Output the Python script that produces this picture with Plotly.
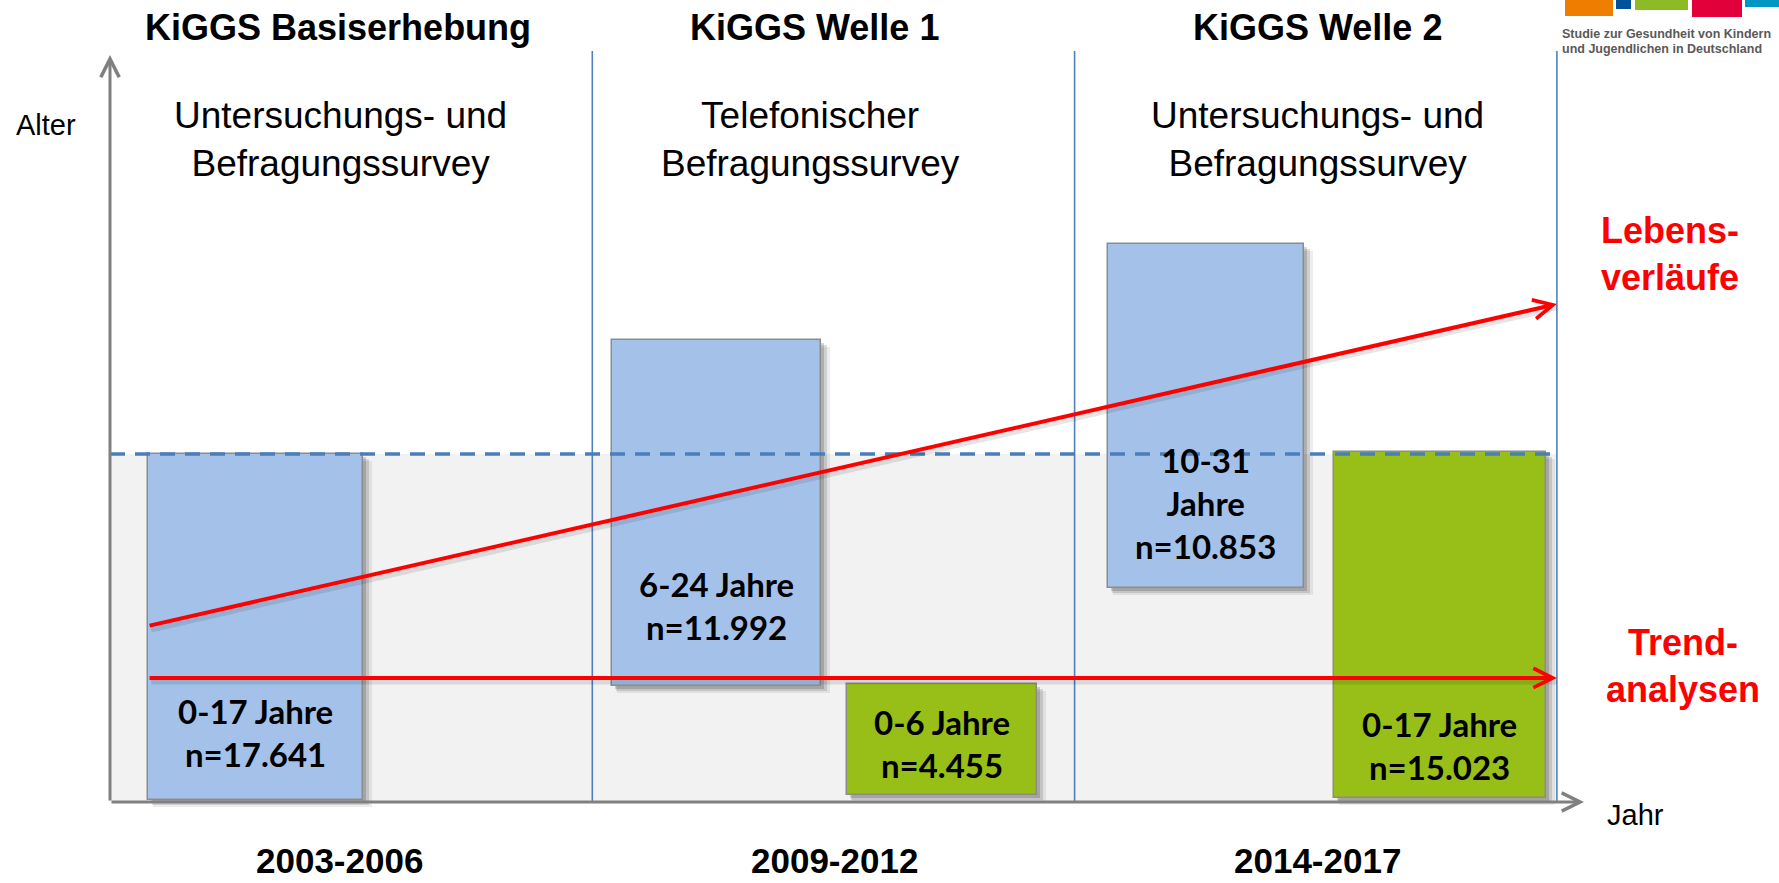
import plotly.graph_objects as go

# ---------------- data ----------------
waves = ["KiGGS Basiserhebung", "KiGGS Welle 1", "KiGGS Welle 2"]
periods = ["2003-2006", "2009-2012", "2014-2017"]
survey_types = ["Untersuchungs- und<br>Befragungssurvey",
                "Telefonischer<br>Befragungssurvey",
                "Untersuchungs- und<br>Befragungssurvey"]

# samples (schematic age extent as drawn in the diagram)
sample_wave = [0, 1, 1, 2, 2]
sample_kind = ["Kohorte", "Kohorte", "Querschnitt", "Kohorte", "Querschnitt"]
sample_age_from = [0.0, 5.6, 0.25, 10.4, 0.1]
sample_age_to = [17.0, 22.6, 5.7, 27.3, 17.1]
sample_labels = ["0-17 Jahre<br>n=17.641",
                 "6-24 Jahre<br>n=11.992",
                 "0-6 Jahre<br>n=4.455",
                 "10-31<br>Jahre<br>n=10.853",
                 "0-17 Jahre<br>n=15.023"]

reference_age = 17          # upper age of the trend population
lebens_start = (0.079, 8.55)
lebens_end = (3.0, 24.37)
trend_age = 6.0
analysis_labels = ["Lebens-<br>verläufe", "Trend-<br>analysen"]
logo_lines = ["Studie zur Gesundheit von Kindern", "und Jugendlichen in Deutschland"]

# ---------------- layout constants (positions / styles) ----------------
W, H = 1779, 883
PXX, X0 = 482.3, 110.0     # px per wave section, px of x=0
PXY, Y0 = 20.35, 800.0     # px per age unit, px of age 0
def dx(px):
    return px / PXX
def dy(px):
    return px / PXY
def X(px):
    return (px - X0) / PXX
def Y(px):
    return (Y0 - px) / PXY

slot_center = [0.302, 1.258, 1.726, 2.272, 2.757]
slot_width = [0.446, 0.434, 0.394, 0.407, 0.44]
label_offset = [3.3, 3.98, 2.53, 4.2, 2.6]
kind_color = {"Kohorte": "#a4c2e9", "Querschnitt": "#97bf17"}

ARIAL = "Liberation Sans, Arial, sans-serif"
CALIBRI = "Lato, Carlito, Calibri, sans-serif"
AXIS_GRAY = "#808080"
DIV_BLUE = "#4f81bd"
RED = "#ff0000"

fig = go.Figure()

# gray band: trend population (0..reference_age)
fig.add_shape(type="rect", xref="x", yref="y", x0=0, x1=3, y0=-0.1, y1=reference_age,
              fillcolor="#f2f2f2", line_width=0, layer="below")

# wave dividers
for k in range(1, len(waves) + 1):
    fig.add_trace(go.Scatter(x=[k, k], y=[-0.1, Y(51)], mode="lines",
                             line=dict(color=DIV_BLUE, width=1.6),
                             hoverinfo="skip", showlegend=False))

# bar shadows
xs = slot_center
bases = sample_age_from
heights = [t - f for f, t in zip(sample_age_from, sample_age_to)]
for (ox, oy, grow, alpha) in [(7, 7, 4, 0.07), (5, 5, 2, 0.12), (3, 3, 0, 0.16)]:
    fig.add_trace(go.Bar(
        x=[c + dx(ox) for c in xs], y=heights,
        base=[b - dy(oy) for b in bases],
        width=[w + dx(grow) for w in slot_width],
        marker=dict(color=f"rgba(0,0,0,{alpha})", line=dict(width=0)),
        hoverinfo="skip", showlegend=False))

# sample bars
fig.add_trace(go.Bar(
    x=xs, y=heights, base=bases, width=slot_width,
    marker=dict(color=[kind_color[k] for k in sample_kind],
                line=dict(color="#8c8c8c", width=1.5)),
    hoverinfo="skip", showlegend=False))

# dashed reference line
fig.add_trace(go.Scatter(x=[0, X(1553)], y=[reference_age, reference_age], mode="lines",
                         line=dict(color="#4a7ebb", width=3.5, dash="15px,10px"),
                         hoverinfo="skip", showlegend=False))

# red line shadows
fig.add_trace(go.Scatter(x=[lebens_start[0] + dx(3), lebens_end[0]],
                         y=[lebens_start[1] - dy(4), lebens_end[1] - dy(4)], mode="lines",
                         line=dict(color="rgba(0,0,0,0.10)", width=5),
                         hoverinfo="skip", showlegend=False))
fig.add_trace(go.Scatter(x=[lebens_start[0] + dx(3), lebens_end[0]],
                         y=[trend_age - dy(4), trend_age - dy(4)], mode="lines",
                         line=dict(color="rgba(0,0,0,0.10)", width=5),
                         hoverinfo="skip", showlegend=False))

annotations = []

def arrow(x0, y0, x1, y1, color, width, size):
    annotations.append(dict(x=x1, y=y1, ax=x0, ay=y0, xref="x", yref="y", axref="x", ayref="y",
                            text="", showarrow=True, arrowhead=5, arrowsize=size,
                            arrowwidth=width, arrowcolor=color, standoff=0))

# axes
arrow(0, -0.1, 0, Y(55), AXIS_GRAY, 3, 1.2)
arrow(0, -0.1, X(1584), -0.1, AXIS_GRAY, 3, 1.2)
# analysis arrows
arrow(lebens_start[0], lebens_start[1], lebens_end[0], lebens_end[1], RED, 4, 0.95)
arrow(lebens_start[0], trend_age, lebens_end[0], trend_age, RED, 4, 0.95)

def text(x, y, s, size, color="#000000", family=ARIAL, weight="normal", xanchor="center",
         xref="x", yref="y", yanchor="middle"):
    annotations.append(dict(x=x, y=y, xref=xref, yref=yref, text=s, showarrow=False,
                            xanchor=xanchor, yanchor=yanchor, align="center",
                            font=dict(size=size, color=color, family=family, weight=weight)))

title_x = [X(338), X(814), X(1317)]
sub_x = [X(340), X(810), X(1317)]
year_x = [X(339), X(834), X(1317)]
for i in range(len(waves)):
    text(title_x[i], Y(27), waves[i], 36, weight="bold")
    text(sub_x[i], Y(139), survey_types[i], 37)
    text(year_x[i], Y(882), periods[i], 35, weight="bold", yanchor="bottom")

for i in range(len(sample_labels)):
    text(slot_center[i], sample_age_from[i] + label_offset[i], sample_labels[i], 33,
         family=CALIBRI, weight="bold")

text(X(46), Y(125), "Alter", 29)
text(X(1635), Y(815), "Jahr", 29)
text(X(1670), Y(254), analysis_labels[0], 36, color=RED, weight="bold")
text(X(1683), Y(666), analysis_labels[1], 36, color=RED, weight="bold")

# RKI / KiGGS logo fragment (top right)
logo_blocks = [(1565, 1613, 16, "#ef7d00"), (1616, 1631, 9, "#00509b"),
               (1635, 1688, 10, "#8dbb25"), (1692, 1742, 17, "#e2003a"),
               (1745, 1779, 7, "#0097c4")]
for (a, b, h, c) in logo_blocks:
    fig.add_shape(type="rect", xref="paper", yref="paper", x0=a / W, x1=b / W,
                  y0=1 - h / H, y1=1, fillcolor=c, line_width=0)
text(1560 / W, 1 - 34 / H, logo_lines[0], 12.5, color="#595959",
     weight="bold", xanchor="left", xref="paper", yref="paper")
text(1560 / W, 1 - 49 / H, logo_lines[1], 12.5, color="#595959",
     weight="bold", xanchor="left", xref="paper", yref="paper")

fig.update_layout(
    width=W, height=H, margin=dict(l=0, r=0, t=0, b=0),
    paper_bgcolor="white", plot_bgcolor="white",
    barmode="overlay", bargap=0, showlegend=False,
    xaxis=dict(range=[X(0), X(W)], visible=False, fixedrange=True),
    yaxis=dict(range=[Y(H), Y(0)], visible=False, fixedrange=True),
    annotations=annotations,
)

fig.write_html("out.html", config={"displayModeBar": False},
               post_script="document.body.style.margin='0';document.body.style.overflow='hidden';")
